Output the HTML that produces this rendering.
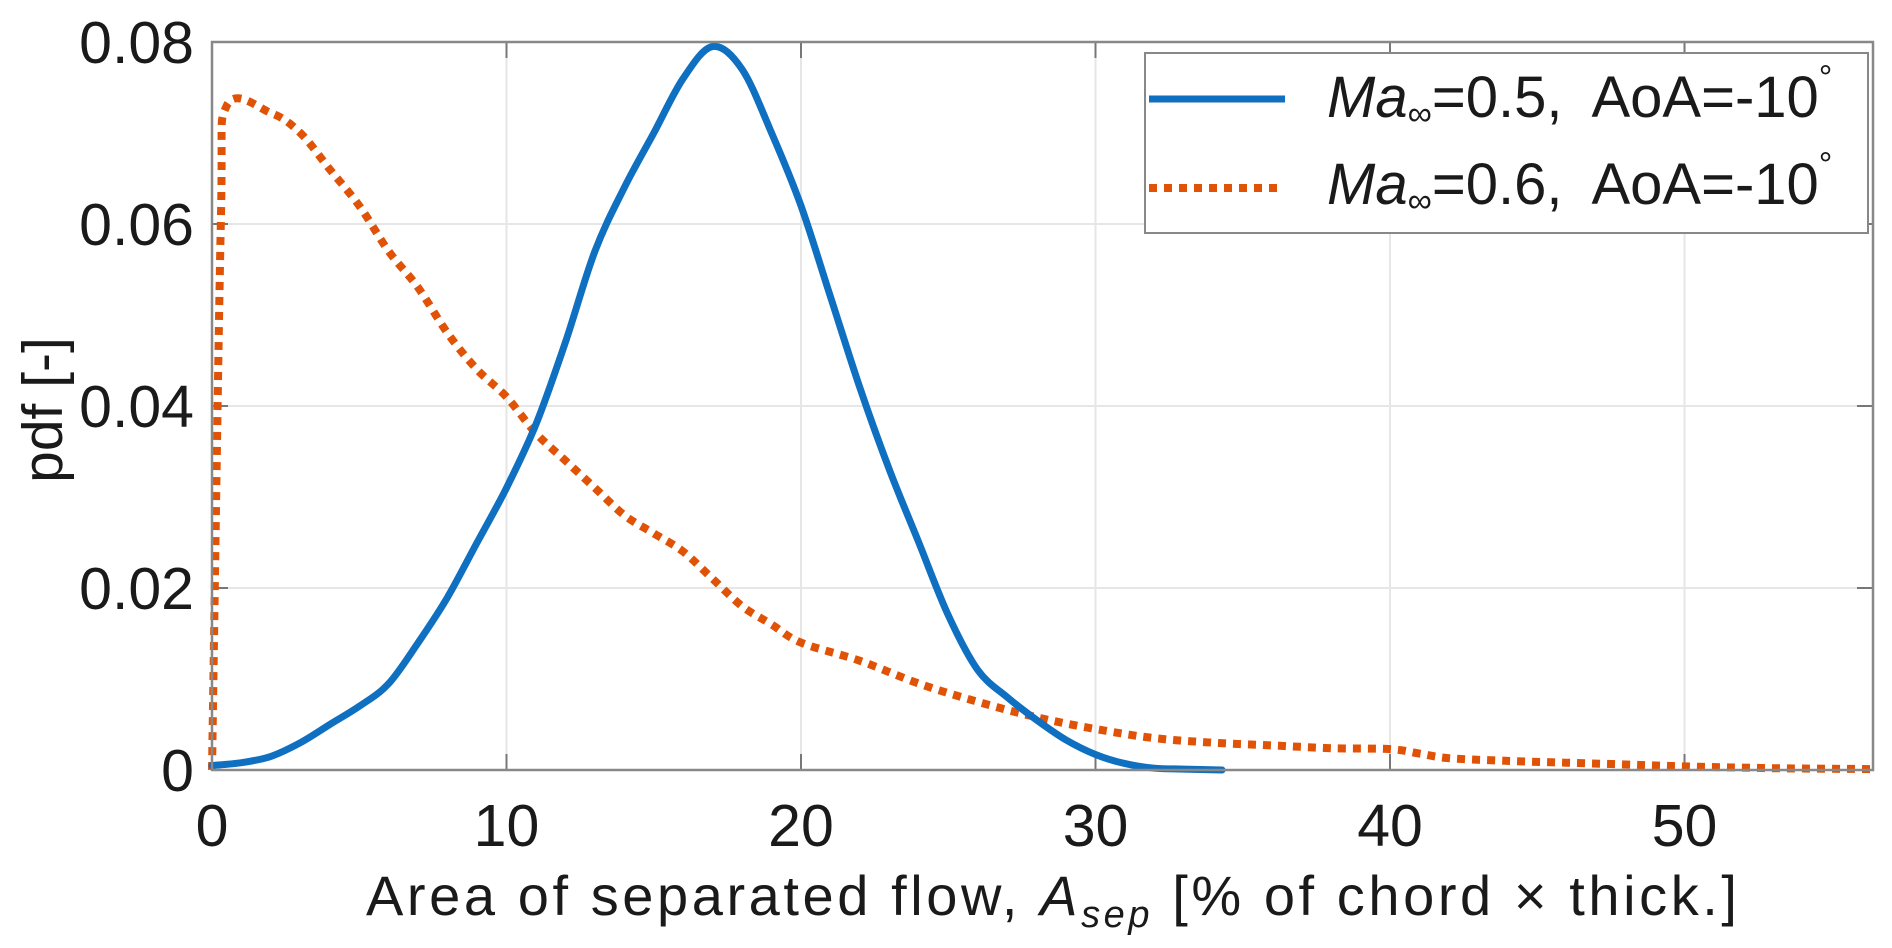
<!DOCTYPE html>
<html><head><meta charset="utf-8"><style>
body{margin:0;background:#fff;}
svg{display:block;font-family:"Liberation Sans",Arial,sans-serif;}
</style></head><body>
<svg id="chart" width="1892" height="948" viewBox="0 0 1892 948" xmlns="http://www.w3.org/2000/svg">
<g id="grid"></g>
<g id="series"></g>
<rect x="212" y="42" width="1661" height="728" fill="none" stroke="#888" stroke-width="2.5"/>
<g id="ticks" font-size="59" fill="#1a1a1a"></g>
<text x="0" y="0" font-size="57" fill="#1a1a1a" text-anchor="middle" transform="translate(62,410) rotate(-90)">pdf [-]</text>
<text x="366" y="915" font-size="56" fill="#1a1a1a" textLength="1371" lengthAdjust="spacing">Area of separated flow, <tspan font-style="italic">A</tspan><tspan font-style="italic" font-size="38" dy="12">sep</tspan><tspan dy="-12"> [% of chord × thick.]</tspan></text>
<g>
<rect x="1145" y="53" width="723" height="180" fill="#fff" stroke="#888" stroke-width="2"/>
<line x1="1149" y1="99" x2="1285" y2="99" stroke="#0f6fc0" stroke-width="7"/>
<line x1="1149" y1="188" x2="1280" y2="188" stroke="#e05206" stroke-width="8" stroke-dasharray="8,7"/>
<text x="1327" y="117" font-size="58" fill="#1a1a1a"><tspan font-style="italic">Ma</tspan><tspan font-size="34" dy="8">∞</tspan><tspan dy="-8">=0.5,&#160; AoA=-10</tspan><tspan font-size="34" dy="-28">°</tspan></text>
<text x="1327" y="204" font-size="58" fill="#1a1a1a"><tspan font-style="italic">Ma</tspan><tspan font-size="34" dy="8">∞</tspan><tspan dy="-8">=0.6,&#160; AoA=-10</tspan><tspan font-size="34" dy="-28">°</tspan></text>
</g>
</svg>
<script>
const xTicks=[0,10,20,30,40,50];
const yTicks=[0,0.02,0.04,0.06,0.08];
const yTickLabels=["0","0.02","0.04","0.06","0.08"];
const blueX=[0,1,2,3,4,5,6,7,8,9,10,11,12,13,14,15,16,17,18,19,20,21,22,23,24,25,26,27,28,29,30,31,32,33,34.3];
const blueY=[0.0005,0.0008,0.0015,0.003,0.005,0.007,0.0095,0.014,0.019,0.025,0.031,0.038,0.047,0.057,0.064,0.070,0.076,0.0795,0.077,0.070,0.062,0.052,0.042,0.033,0.025,0.017,0.011,0.008,0.0055,0.0033,0.0017,0.0007,0.0002,0.0001,0];
const redX=[0,0.3,0.5,2,3,4,5,6,7,8,9,10,11,12,13,14,15,16,17,18,19,20,22,24,26,28,30,32,34,36,38,40,41,42,44,46,48,50,53,56.4];
const redY=[0,0.06,0.073,0.0722,0.070,0.066,0.062,0.057,0.053,0.048,0.044,0.041,0.037,0.034,0.031,0.028,0.026,0.024,0.021,0.018,0.016,0.014,0.012,0.0095,0.0075,0.0058,0.0045,0.0035,0.003,0.0027,0.0024,0.0023,0.0018,0.0013,0.001,0.0008,0.0006,0.0004,0.0002,0.0001];
const X0=212,X1=1873,Y0=770,Y1=42,XMAX=56.4,YMAX=0.08;
const sx=v=>X0+(v/XMAX)*(X1-X0);
const sy=v=>Y0-(v/YMAX)*(Y0-Y1);
const NS="http://www.w3.org/2000/svg";
const grid=document.getElementById('grid'),ticks=document.getElementById('ticks'),series=document.getElementById('series');
function mk(tag,attrs,parent){const e=document.createElementNS(NS,tag);for(const k in attrs)e.setAttribute(k,attrs[k]);parent.appendChild(e);return e;}
xTicks.forEach(t=>{
  const g=mk('line',{x1:sx(t),x2:sx(t),y1:Y1,y2:Y0,stroke:'#e6e6e6','stroke-width':2},grid);
  
  
  const m=mk('line',{x1:sx(t),x2:sx(t),y1:Y0,y2:Y0-16,stroke:'#777','stroke-width':2},grid);
  
  
  const m2=mk('line',{x1:sx(t),x2:sx(t),y1:Y1,y2:Y1+16,stroke:'#777','stroke-width':2},grid);
  
  
  const l=mk('text',{x:sx(t),y:846,'text-anchor':'middle'},ticks);l.textContent=t;
  
  
});
yTicks.forEach((t,i)=>{
  const g=mk('line',{x1:X0,x2:X1,y1:sy(t),y2:sy(t),stroke:'#e6e6e6','stroke-width':2},grid);
  
  
  const m=mk('line',{x1:X0,x2:X0+16,y1:sy(t),y2:sy(t),stroke:'#777','stroke-width':2},grid);
  
  
  const m2=mk('line',{x1:X1,x2:X1-16,y1:sy(t),y2:sy(t),stroke:'#777','stroke-width':2},grid);
  
  
  const l=mk('text',{x:194,y:sy(t)+21,'text-anchor':'end'},ticks);l.textContent=yTickLabels[i];
  
  
});
function path(xs,ys){
  const p=xs.map((x,i)=>[sx(x),sy(ys[i])]);
  let d='M'+p[0][0].toFixed(1)+' '+p[0][1].toFixed(1);
  for(let i=0;i<p.length-1;i++){
    const a=p[i-1]||p[i],b=p[i],c=p[i+1],e=p[i+2]||c;
    const c1=[b[0]+(c[0]-a[0])/6,b[1]+(c[1]-a[1])/6],c2=[c[0]-(e[0]-b[0])/6,c[1]-(e[1]-b[1])/6];
    d+=' C'+c1.map(v=>v.toFixed(1)).join(' ')+' '+c2.map(v=>v.toFixed(1)).join(' ')+' '+c[0].toFixed(1)+' '+c[1].toFixed(1);
  }
  return d;
}
const rp=mk('path',{d:path(redX,redY),fill:'none',stroke:'#e05206','stroke-width':8,'stroke-dasharray':'8,7','stroke-linejoin':'round'},series);


const bp=mk('path',{d:path(blueX,blueY),fill:'none',stroke:'#0f6fc0','stroke-width':7,'stroke-linejoin':'round','stroke-linecap':'round'},series);


</script>
</body></html>
